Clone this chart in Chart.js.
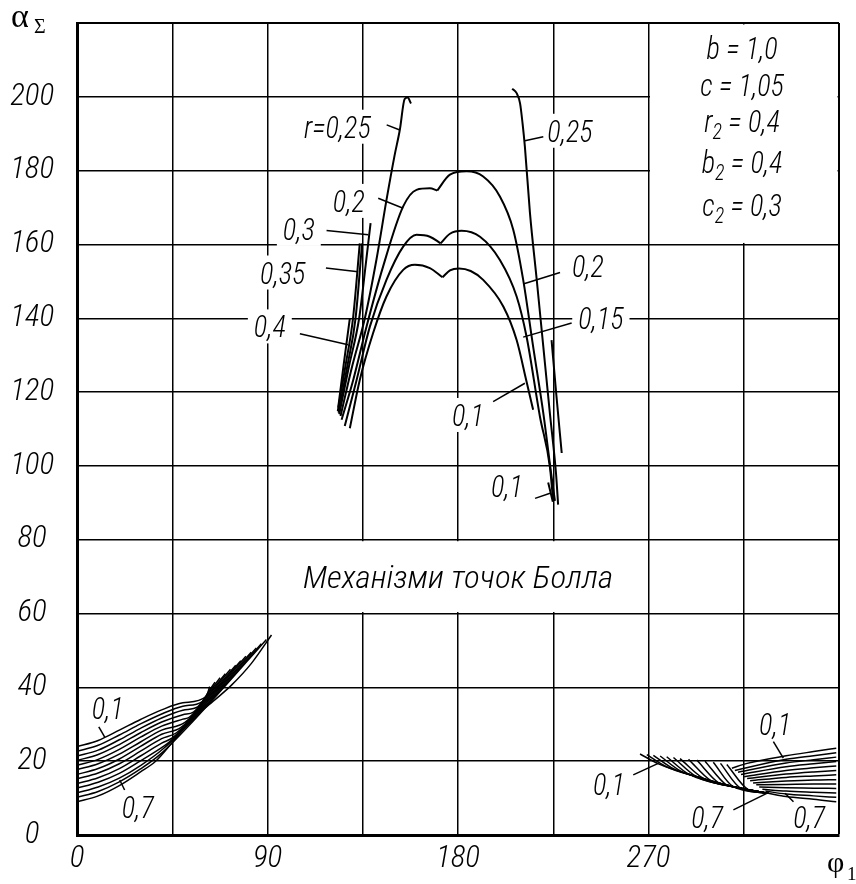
<!DOCTYPE html>
<html>
<head>
<meta charset="utf-8">
<title>Механізми точок Болла</title>
<script src="https://cdn.jsdelivr.net/npm/chart.js@4.4.1/dist/chart.umd.min.js"></script>
<style>
  body { margin: 0; background: #fff; }
  canvas { display: block; }
</style>
</head>
<body>
<canvas id="chart" width="856" height="884"></canvas>
<script>
// Дані: φ1 (град) -> αΣ (град)

// верхня група: "куполи" r = 0,1 / 0,15 / 0,2 (ліва і права половини до виїмки)
const domeR01L = [[128.9,110.2],[133.6,123.3],[139.9,136.0],[146.2,145.9],[154.1,153.1],[159.6,154.5],[166.7,153.6],[172.7,151.1]];
const domeR01R = [[172.7,151.1],[176.2,153.0],[180.5,153.5],[186.0,152.8],[191.9,150.4],[201.4,143.2],[207.7,134.1],[212.4,122.8],[215.5,115.2]];
const domeR015L = [[126.5,110.8],[132.1,123.3],[138.4,137.8],[146.2,150.4],[154.1,159.4],[160.4,162.6],[166.7,162.1],[171.8,160.3]];
const domeR015R = [[171.8,160.3],[176.2,162.9],[181.7,163.7],[190.4,162.1],[199.8,155.8],[207.7,145.9],[212.4,135.0],[218.7,113.4],[223.4,99.8],[224.9,90.8]];
const domeR02L = [[125.0,112.5],[130.5,123.3],[136.8,137.8],[144.6,154.0],[154.1,170.3],[160.4,174.8],[166.7,175.2],[170.2,174.6]];
const domeR02R = [[170.2,174.6],[176.2,178.9],[184.1,179.8],[191.9,178.4],[199.8,173.0],[206.1,164.0],[210.8,150.4],[215.5,132.3],[220.3,114.3],[224.2,97.1],[225.8,90.5]];

// круті гілки
const branchR025L = [[124.5,113.5],[130,127],[136,140],[141.5,156],[146.2,172],[150,184],[152.5,191],[154.8,199.4],[156.2,199.8],[157.8,198.2]];
const branchR025R = [[205.6,202.2],[207.7,201.0],[209.3,198.3],[210.5,192.8],[211.6,186.5],[214,168.5],[217.2,150.4],[220.3,132.3],[223.4,114.3],[226.3,98],[227.3,89.5]];
const branchR03 = [[123.9,114],[128.5,127],[133.3,140],[136.5,155],[138.7,165.8]];
const branchR035 = [[123.2,114.8],[126.8,127],[130.4,140],[133.6,160.3]];
const branchR035b = [[123.6,114.4],[127.7,127],[131.6,140],[134.7,160.3]];
const branchR04 = [[123.4,115.8],[126,127.5],[128.9,140]];
const branchShort = [[224.2,134.1],[226.5,119],[229,103.5]];
const branchR01R = [[222.6,95.5],[224.8,90.3]];

// нижня ліва в'язка, r = 0,1 ... 0,7
const fanLeft = [
  [[0,23.9],[10,25.6],[20,28.4],[30,31.3],[40,33.9],[50,35.8],[61,37.5],[62.7,40.2]],
  [[0,22.7],[10,24.3],[20,27.1],[30,30.1],[40,32.8],[50,34.9],[59,36.1],[62,38.7],[65.2,41.4]],
  [[0,21.4],[10,23.0],[20,25.8],[30,28.9],[40,31.7],[50,33.8],[57,34.7],[62,38.4],[67.6,42.6]],
  [[0,20.2],[10,21.8],[20,24.5],[30,27.7],[40,30.6],[50,32.6],[55,33.3],[62,38.0],[70.1,43.7]],
  [[0,18.9],[10,20.5],[20,23.2],[30,26.5],[40,29.5],[50,31.4],[53,31.9],[62,37.7],[72.5,44.9]],
  [[0,17.7],[10,19.3],[20,21.9],[30,25.2],[40,28.4],[51,30.5],[62,37.3],[75,46.0]],
  [[0,16.4],[10,18.0],[20,20.6],[30,24.0],[40,27.3],[49,29.1],[62,37.0],[77.4,47.2]],
  [[0,15.2],[10,16.8],[20,19.3],[30,22.7],[40,26.1],[47,27.7],[62,36.6],[79.8,48.4]],
  [[0,13.9],[10,15.5],[20,18.0],[30,21.4],[40,24.9],[45,26.3],[62,36.3],[82.3,49.5]],
  [[0,12.7],[10,14.3],[20,16.7],[30,20.1],[40,23.7],[43,24.9],[62,35.9],[84.7,50.7]],
  [[0,11.4],[10,13.0],[20,15.4],[30,18.8],[41,23.5],[62,35.6],[87.1,51.8]],
  [[0,10.2],[10,11.8],[20,14.4],[30,17.9],[39,21.7],[62,35.3],[89.5,53.0]],
  [[0,9.0],[10,10.6],[20,13.4],[30,17.1],[37,19.9],[44.6,24.8],[54.1,31.2],[65.1,36.6],[73,40.6],[82.4,46.5],[91.9,54.2]]
];

// нижня права в'язка А (ліві короткі штрихи)
const fanRightA = [
  [[266,21.95],[275,19.2],[292.8,15.8],[310.1,13.1],[326.6,11.3]],
  [[269.2,21.8],[278.5,18.5],[292.8,15.8],[310.1,13.1],[326.6,11.3]],
  [[272.3,21.6],[282,17.9],[292.8,15.8],[310.1,13.1],[326.6,11.3]],
  [[275.5,21.4],[285.5,17.2],[292.8,15.8],[310.1,13.1],[326.6,11.3]],
  [[278.6,21.2],[289,16.5],[310.1,13.1],[326.6,11.3]],
  [[281.8,21.0],[292.5,15.85],[310.1,13.1],[326.6,11.3]],
  [[284.9,20.7],[296,15.3],[310.1,13.1],[326.6,11.3]],
  [[288.9,20.5],[299.5,14.7],[310.1,13.1],[326.6,11.3]],
  [[292.8,20.3],[303,14.2],[310.1,13.1],[326.6,11.3]],
  [[296.7,20.0],[306.5,13.7],[310.1,13.1],[326.6,11.3]],
  [[300.6,19.7],[310,13.1],[326.6,11.3]],
  [[304,19.4],[313.5,12.7],[326.6,11.3]],
  [[307,19.1],[317,12.35],[326.6,11.3]]
];

// нижня права в'язка Б (до правого краю)
const fanRightB = [
  [[309.4,18.1],[316.6,19.4],[335,21.45],[348,22.6],[358.7,23.5]],
  [[310.8,17.5],[335,20.5],[348,21.5],[358.7,22.3]],
  [[312.3,17.0],[335,19.5],[348,20.4],[358.7,21.1]],
  [[313.7,16.4],[335,18.5],[348,19.3],[358.7,19.9]],
  [[315.2,15.8],[335,17.5],[348,18.2],[358.7,18.7]],
  [[316.6,15.3],[335,16.5],[348,17.1],[358.7,17.5]],
  [[318.0,14.7],[335,15.6],[348,16.0],[358.7,16.3]],
  [[319.4,14.1],[335,14.6],[348,14.9],[358.7,15.0]],
  [[320.9,13.6],[335,13.7],[348,13.8],[358.7,13.8]],
  [[322.3,13.0],[335,12.8],[348,12.7],[358.7,12.6]],
  [[323.8,12.4],[335,11.9],[348,11.6],[358.7,11.4]],
  [[325.2,11.9],[335,11.1],[348,10.6],[358.7,10.2]],
  [[326.6,11.3],[335,10.4],[348,9.7],[358.7,9.0]]
];

// підписи кривих: текст, центр тексту (x, y), виноска від (x1, y1) до (x2, y2)
const notes = [
  ['r=0,25', 123.0, 191.9, 146.3, 192.4, 152.5, 191.0],
  ['0,2', 128.4, 171.8, 142.3, 172.5, 154.1, 169.8],
  ['0,3', 104.8, 164.2, 117.9, 163.8, 137.6, 162.6],
  ['0,35', 97.2, 152.4, 117.6, 153.6, 132.8, 152.6],
  ['0,4', 91.1, 137.8, 105.3, 135.8, 128.1, 132.8],
  ['0,25', 232.9, 190.8, 220.3, 189.2, 211.6, 188.1],
  ['0,2', 241.4, 154.2, 228.2, 152.4, 210.8, 149.3],
  ['0,15', 247.5, 140.2, 233.7, 138.7, 210.8, 134.9],
  ['0,1', 184.7, 113.8, 196.6, 117.4, 211.6, 122.4],
  ['0,1', 203.1, 94.6, 216.4, 91.2, 223.5, 92.6],
  ['0,1', 14.5, 34.5, 10.3, 29.3, 13.1, 26.5],
  ['0,7', 28.7, 7.7, 22.5, 12.2, 20.2, 14.9],
  ['0,1', 251.3, 13.8, 262.8, 16.3, 274.6, 19.4],
  ['0,1', 329.8, 30.1, 329.0, 25.3, 333.7, 20.8],
  ['0,7', 297.7, 5.0, 310.1, 6.8, 326.6, 11.5],
  ['0,7', 345.9, 5.0, 338.5, 9.0, 334.5, 11.3]
];

// параметри механізму (рядки: частини тексту, 1 = нижній індекс)
const params = [
  [['b', 0], [' = 1,0', 0]],
  [['c', 0], [' = 1,05', 0]],
  [['r', 0], ['2', 1], [' = 0,4', 0]],
  [['b', 0], ['2', 1], [' = 0,4', 0]],
  [['c', 0], ['2', 1], [' = 0,3', 0]]
];
const paramRowsY = [213.3, 203.3, 193.4, 182.4, 170.7];
const title = 'Механізми точок Болла';

const FONT = '"Roboto Condensed", "DejaVu Sans", sans-serif';
const SERIF = '"Liberation Serif", "DejaVu Serif", serif';

function toXY(arr) { return arr.map(p => ({ x: p[0], y: p[1] })); }
function line(arr, w) {
  return { data: toXY(arr), showLine: true, borderColor: '#000', borderWidth: w,
           pointRadius: 0, fill: false, cubicInterpolationMode: 'monotone' };
}

const datasets = [];
[domeR01L, domeR01R, domeR015L, domeR015R, domeR02L, domeR02R,
 branchR025L, branchR025R, branchR03, branchR035, branchR035b, branchR04,
 branchShort, branchR01R].forEach(a => datasets.push(line(a, 2)));
fanLeft.forEach(a => datasets.push(line(a, 1.5)));
fanRightA.forEach(a => datasets.push(line(a, 1.5)));
fanRightB.forEach(a => datasets.push(line(a, 1.5)));

// горизонтальне стискання тексту, щоб "200" мав ширину ~40px при 31px
function squeeze(ctx, size) {
  ctx.font = `italic 300 ${size}px ${FONT}`;
  return 40 / ctx.measureText('200').width * (size / 31);
}

function drawLabel(ctx, s, cx, cy, size, sx) {
  ctx.save();
  ctx.font = `italic 300 ${size}px ${FONT}`;
  ctx.textAlign = 'center';
  ctx.textBaseline = 'alphabetic';
  ctx.translate(cx, cy + size * 0.711 / 2);
  ctx.scale(sx, 1);
  ctx.fillText(s, 0, 0);
  ctx.restore();
}

const notesPlugin = {
  id: 'notes',
  beforeDatasetsDraw(chart) {
    const { ctx, scales: { x, y } } = chart;
    ctx.save();
    ctx.fillStyle = '#fff';
    // рамка параметрів і рамка напису - без сітки всередині
    [[270, 360, 160, 220], [90, 270, 60, 80]].forEach(b => {
      const x1 = x.getPixelForValue(b[0]), x2 = x.getPixelForValue(b[1]);
      const y1 = y.getPixelForValue(b[3]), y2 = y.getPixelForValue(b[2]);
      ctx.fillRect(x1 + 1.5, y1 + 1.5, x2 - x1 - 3, y2 - y1 - 3);
    });
    // білі плашки під підписами (розриви сітки)
    const size = 31, sx = squeeze(ctx, size);
    ctx.font = `italic 300 ${size}px ${FONT}`;
    notes.forEach(n => {
      const w = ctx.measureText(n[0]).width * sx;
      const cx = x.getPixelForValue(n[1]), cy = y.getPixelForValue(n[2]);
      ctx.fillRect(cx - w / 2 - 6, cy - 17, w + 12, 34);
    });
    ctx.restore();
  },
  afterDatasetsDraw(chart) {
    const { ctx, scales: { x, y }, chartArea } = chart;
    const size = 31, sx = squeeze(ctx, size);
    ctx.save();
    ctx.fillStyle = '#000';
    ctx.strokeStyle = '#000';
    ctx.lineWidth = 1.5;
    notes.forEach(n => {
      drawLabel(ctx, n[0], x.getPixelForValue(n[1]), y.getPixelForValue(n[2]), size, sx);
      ctx.beginPath();
      ctx.moveTo(x.getPixelForValue(n[3]), y.getPixelForValue(n[4]));
      ctx.lineTo(x.getPixelForValue(n[5]), y.getPixelForValue(n[6]));
      ctx.stroke();
    });

    // напис у полі графіка
    ctx.font = `italic 300 ${size}px ${FONT}`;
    const tw = ctx.measureText(title).width;
    const tsx = (x.getPixelForValue(253) - x.getPixelForValue(106.5)) / tw;
    drawLabel(ctx, title, x.getPixelForValue(180), y.getPixelForValue(70), size, tsx);

    // параметри
    params.forEach((row, i) => {
      const cy = y.getPixelForValue(paramRowsY[i]);
      let total = 0;
      row.forEach(seg => {
        ctx.font = `italic 300 ${seg[1] ? 22 : size}px ${FONT}`;
        total += ctx.measureText(seg[0]).width * sx;
      });
      let px = x.getPixelForValue(314.2) - total / 2;
      row.forEach(seg => {
        const s = seg[1] ? 22 : size;
        ctx.save();
        ctx.font = `italic 300 ${s}px ${FONT}`;
        ctx.textAlign = 'left';
        ctx.textBaseline = 'alphabetic';
        ctx.translate(px, cy + size * 0.711 / 2 + (seg[1] ? 7 : 0));
        ctx.scale(sx, 1);
        ctx.fillText(seg[0], 0, 0);
        ctx.restore();
        ctx.font = `italic 300 ${s}px ${FONT}`;
        px += ctx.measureText(seg[0]).width * sx;
      });
    });

    // назви осей
    ctx.textAlign = 'left';
    ctx.textBaseline = 'alphabetic';
    ctx.font = `34px ${SERIF}`;
    ctx.fillText('α', chartArea.left - 66, chartArea.top + 4);
    ctx.font = `20px ${SERIF}`;
    ctx.fillText('Σ', chartArea.left - 43, chartArea.top + 10);
    ctx.font = `30px ${SERIF}`;
    ctx.fillText('φ', chartArea.right - 12, chartArea.bottom + 37);
    ctx.font = `19px ${SERIF}`;
    ctx.fillText('1', chartArea.right + 8, chartArea.bottom + 45);
    ctx.restore();
  }
};

const tickFont = { family: FONT, size: 31, style: 'italic', weight: '300' };
const gridWidth = c => (c.tick && (c.tick.value === 220 || c.tick.value === 360)) ? 2 : 1.5;
function noPad(s) { s.paddingTop = 0; s.paddingBottom = 0; s.paddingLeft = 0; s.paddingRight = 0; }

const chart = new Chart(document.getElementById('chart').getContext('2d'), {
  type: 'scatter',
  data: { datasets },
  options: {
    responsive: false,
    animation: false,
    events: [],
    layout: { padding: { left: 0, right: 17, top: 23, bottom: 0 } },
    plugins: { legend: { display: false }, tooltip: { enabled: false } },
    scales: {
      x: {
        type: 'linear', min: 0, max: 360,
        afterFit(s) { s.height = 49; noPad(s); },
        ticks: {
          stepSize: 45, autoSkip: false, maxRotation: 0, padding: 6,
          color: '#000', font: tickFont,
          callback: v => (v % 90 === 0 && v < 360) ? String(v) : ''
        },
        grid: { color: '#000', lineWidth: gridWidth, drawTicks: false },
        border: { color: '#000', width: 3 }
      },
      y: {
        type: 'linear', min: 0, max: 220,
        afterFit(s) { s.width = 77; noPad(s); },
        ticks: {
          stepSize: 20, padding: 23, crossAlign: 'center',
          color: '#000', font: tickFont,
          callback: v => v < 220 ? String(v) : ''
        },
        grid: { color: '#000', lineWidth: gridWidth, drawTicks: false },
        border: { color: '#000', width: 3 }
      }
    }
  },
  plugins: [notesPlugin]
});
</script>
</body>
</html>
